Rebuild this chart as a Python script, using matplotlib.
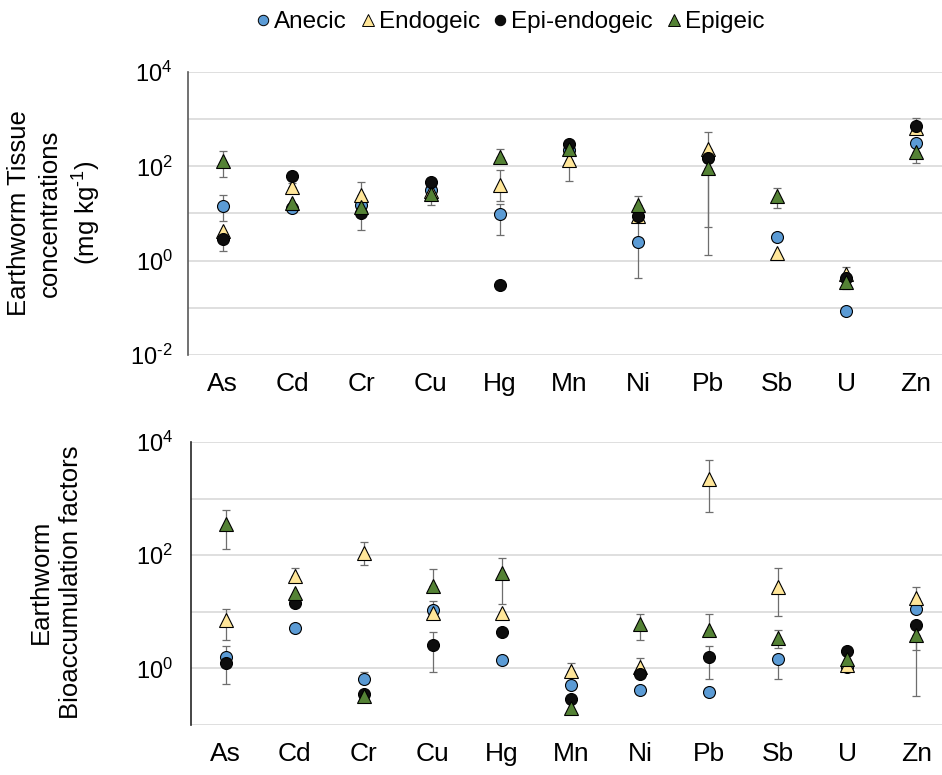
import numpy as np
import matplotlib
matplotlib.use("Agg")
import matplotlib.pyplot as plt
from matplotlib.lines import Line2D

plt.rcParams['font.family'] = ['Liberation Sans', 'DejaVu Sans']
plt.rcParams['mathtext.fontset'] = 'custom'
plt.rcParams['mathtext.rm'] = 'Liberation Sans'
plt.rcParams['mathtext.default'] = 'regular'

elementos = ["As", "Cd", "Cr", "Cu", "Hg", "Mn", "Ni", "Pb", "Sb", "U", "Zn"]
grupos = ["Anecic", "Endogeic", "Epi-endogeic", "Epigeic"]
N = None

# Concentraciones en tejido (mg/kg)
conc_anecic = [14.5, 13, 15, 32, 9.8, 220, 2.45, 160, 3.2, 0.084, 315]
conc_anecic_min = [6.9, N, N, N, 3.5, N, 0.42, N, N, N, N]
conc_anecic_max = [25, N, N, N, 16, N, 8, N, N, N, N]

conc_endogeic = [4.3, 37, 25, 30, 41, 137, 9.0, 230, 1.43, 0.52, 660]
conc_endogeic_min = [N, N, N, N, 18, 48, N, N, N, N, N]
conc_endogeic_max = [N, 45, 47, N, 85, N, N, 530, N, 0.72, N]

conc_epiendo = [2.9, 63, 10, 46, 0.31, 300, 8.7, 152, N, 0.43, 700]
conc_epiendo_min = [1.6, N, 4.5, N, N, N, N, 5.1, N, N, N]
conc_epiendo_max = [4.0, 75, N, 52, N, N, N, N, N, N, 1070]

conc_epigeic = [128, 17, 14, 26, 156, 235, 15, 91, 23, 0.36, 200]
conc_epigeic_min = [58, N, N, 15.5, N, N, N, 1.3, 13, 0.25, 118]
conc_epigeic_max = [215, N, N, N, 236, N, 24, N, 34, N, N]

# Factores de bioacumulacion
baf_anecic = [1.56, 5.1, 0.64, 10.6, 1.4, 0.50, 0.41, 0.39, 1.48, 1.04, 11.3]
baf_anecic_min = [N, N, N, N, N, N, N, N, 0.66, N, N]
baf_anecic_max = [2.5, N, 0.86, 15.6, N, N, N, N, N, N, N]

baf_endogeic = [7.1, 43, 110, 9.4, 9.6, 0.91, 1.07, 2230, 27.6, 1.14, 17.7]
baf_endogeic_min = [3.2, N, 67, N, N, N, N, 585, 8.5, N, N]
baf_endogeic_max = [11.3, 60, 170, N, N, 1.26, 1.5, 4900, 60, N, 27.5]

baf_epiendo = [1.23, 14.5, 0.36, 2.6, 4.4, 0.29, 0.79, 1.56, N, 2.05, 5.8]
baf_epiendo_min = [0.52, N, N, 0.87, N, N, N, 0.66, N, N, 2.1]
baf_epiendo_max = [N, N, N, 4.4, N, N, N, 2.5, N, N, N]

baf_epigeic = [355, 21.7, 0.32, 28.5, 48, 0.20, 6.0, 4.8, 3.5, 1.44, 3.9]
baf_epigeic_min = [130, N, N, N, 13.7, N, 3.2, N, 2.3, N, 0.32]
baf_epigeic_max = [630, N, N, 57, 88, N, 9, 9, 4.8, N, N]

colores = ["#5B9BD5", "#FFE699", "#0D0D0D", "#548235"]
marcadores = ["o", "^", "o", "^"]
tamanos = [8.6, 10.5, 8.6, 10.5]


def a_array(lista):
    return np.array([np.nan if v is None else v for v in lista], dtype=float)


def dibujar_serie(ax, valores, minimos, maximos, color, marcador, tam, orden):
    x = np.arange(len(elementos))
    y = a_array(valores)
    lo = a_array(minimos)
    hi = a_array(maximos)
    # las barras sin dato quedan con longitud cero (ocultas bajo el marcador)
    err_abajo = np.where(np.isnan(lo), 0, y - lo)
    err_arriba = np.where(np.isnan(hi), 0, hi - y)
    con_barra = ~(np.isnan(lo) & np.isnan(hi)) & ~np.isnan(y)
    ax.errorbar(x[con_barra], y[con_barra],
                yerr=[err_abajo[con_barra], err_arriba[con_barra]],
                fmt='none', ecolor='#6E6E6E', elinewidth=0.9, capsize=2.8,
                capthick=0.9, zorder=2)
    ax.plot(x, y, linestyle='none', marker=marcador, markersize=tam,
            markerfacecolor=color, markeredgecolor='black',
            markeredgewidth=0.8, zorder=3 + orden)


def preparar_eje(ax, ymin, etiquetas_y, color_eje, pad_y):
    ax.set_yscale('log')
    exps = np.arange(ymin, 5)
    ax.set_ylim(10.0 ** ymin, 1e4)
    ax.set_yticks(10.0 ** exps)
    ax.set_yticklabels(etiquetas_y, fontsize=17)
    ax.minorticks_off()
    ax.set_xticks(np.arange(len(elementos)))
    ax.set_xticklabels(elementos, fontsize=19)
    ax.tick_params(axis='both', length=0)
    ax.tick_params(axis='x', pad=12)
    ax.tick_params(axis='y', pad=pad_y)
    ax.grid(axis='y', color='#D9D9D9', linewidth=1.2)
    ax.set_axisbelow(True)
    for lado in ['top', 'right', 'bottom']:
        ax.spines[lado].set_visible(False)
    ax.spines['left'].set_color(color_eje)
    ax.spines['left'].set_linewidth(1.2)


fig = plt.figure(figsize=(9.42, 7.75), dpi=100)
ax1 = fig.add_axes([188 / 942, 1 - 355 / 775, (942 - 188) / 942, (355 - 72) / 775])
ax2 = fig.add_axes([191 / 942, 1 - 725 / 775, (942 - 191) / 942, (725 - 442) / 775])

series_conc = [
    (conc_anecic, conc_anecic_min, conc_anecic_max),
    (conc_endogeic, conc_endogeic_min, conc_endogeic_max),
    (conc_epiendo, conc_epiendo_min, conc_epiendo_max),
    (conc_epigeic, conc_epigeic_min, conc_epigeic_max),
]
series_baf = [
    (baf_anecic, baf_anecic_min, baf_anecic_max),
    (baf_endogeic, baf_endogeic_min, baf_endogeic_max),
    (baf_epiendo, baf_epiendo_min, baf_epiendo_max),
    (baf_epigeic, baf_epigeic_min, baf_epigeic_max),
]

for i, (v, lo, hi) in enumerate(series_conc):
    dibujar_serie(ax1, v, lo, hi, colores[i], marcadores[i], tamanos[i], i)
for i, (v, lo, hi) in enumerate(series_baf):
    dibujar_serie(ax2, v, lo, hi, colores[i], marcadores[i], tamanos[i], i)

etq1 = [r'$10^{\text{-2}}$', '', '$10^{0}$', '', '$10^{2}$', '', '$10^{4}$']
etq2 = ['', '$10^{0}$', '', '$10^{2}$', '', '$10^{4}$']
preparar_eje(ax1, -2, etq1, '#595959', 11)
preparar_eje(ax2, -1, etq2, '#262626', 13)
ax1.set_xlim(-0.5, 10.38)
ax2.set_xlim(-0.5, 10.37)

fig.text(55 / 942, 1 - 213 / 775, 'Earthworm Tissue\nconcentrations\n' + r'(mg kg$^{\text{-1}}$)',
         rotation=90, ha='center', va='center', multialignment='center',
         fontsize=18.5, linespacing=1.35)
fig.text(56 / 942, 1 - 582 / 775, 'Earthworm\nBioaccumulation factors',
         rotation=90, ha='center', va='center', multialignment='center',
         fontsize=18.5, linespacing=1.35)

manejadores = [Line2D([], [], linestyle='none', marker=marcadores[i],
                      markersize=7.5 if marcadores[i] == 'o' else 9,
                      markerfacecolor=colores[i], markeredgecolor='black',
                      markeredgewidth=0.7)
               for i in range(4)]
fig.legend(manejadores, grupos, loc='center', bbox_to_anchor=(510 / 942, 1 - 22 / 775),
           ncol=4, frameon=False, fontsize=17.5, handlelength=0.6,
           handletextpad=0.15, columnspacing=0.55, borderpad=0)

fig.savefig('out.png', dpi=100)
